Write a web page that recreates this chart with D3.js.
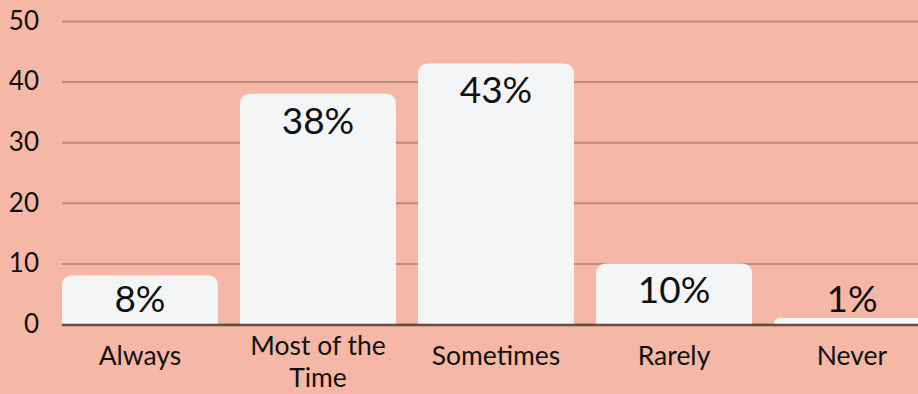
<!DOCTYPE html>
<html>
<head>
<meta charset="utf-8">
<script src="https://cdn.jsdelivr.net/npm/d3@7"></script>
<style>
  html, body { margin: 0; padding: 0; background: #f5b8a6; }
  svg { display: block; }
  text { font-family: Lato, "Noto Sans", sans-serif; fill: #111; }
</style>
</head>
<body>
<svg id="chart" width="918" height="394"></svg>
<script>
const categories = ["Always", "Most of the Time", "Sometimes", "Rarely", "Never"];
const categoryLines = [["Always"], ["Most of the", "Time"], ["Sometimes"], ["Rarely"], ["Never"]];
const values = [8, 38, 43, 10, 1];
const valueLabels = ["8%", "38%", "43%", "10%", "1%"];
const yTicks = [0, 10, 20, 30, 40, 50];

const W = 918, H = 394;
const svg = d3.select("#chart");
svg.append("rect").attr("width", W).attr("height", H).attr("fill", "#f5b8a6");

const x = d3.scaleBand().domain(categories).range([62, 930]).paddingInner(0.124).paddingOuter(0);
const y = d3.scaleLinear().domain([0, 50]).range([324, 21]);

// gridlines + y labels
const yAxis = d3.axisLeft(y).tickValues(yTicks).tickSizeInner(-(W - 62)).tickSizeOuter(0).tickPadding(23);
const gy = svg.append("g").attr("transform", "translate(62,0)").call(yAxis);
gy.select(".domain").remove();
gy.selectAll(".tick line").attr("stroke", "#bd8b7c").attr("stroke-width", 2);
gy.selectAll(".tick text").attr("font-size", 26).attr("fill", "#111")
  .style("font-family", "Lato, 'Noto Sans', sans-serif");

// bars with rounded top corners
function barPath(x0, w, yTop, yBot, r) {
  const h = yBot - yTop;
  const rr = Math.min(r, h, w / 2);
  return `M${x0},${yBot} L${x0},${yTop + rr} Q${x0},${yTop} ${x0 + rr},${yTop} ` +
         `L${x0 + w - rr},${yTop} Q${x0 + w},${yTop} ${x0 + w},${yTop + rr} L${x0 + w},${yBot} Z`;
}
svg.append("g").selectAll("path").data(values).join("path")
  .attr("d", (d, i) => barPath(x(categories[i]), x.bandwidth(), y(d), y(0), 11))
  .attr("fill", "#f4f5f7");

// baseline
svg.append("line").attr("x1", 62).attr("x2", W).attr("y1", y(0) + 1).attr("y2", y(0) + 1)
  .attr("stroke", "#6a4b42").attr("stroke-width", 2.5);

// value labels
svg.append("g").selectAll("text").data(values).join("text")
  .attr("x", (d, i) => x(categories[i]) + x.bandwidth() / 2)
  .attr("y", d => Math.min(y(d) + 40, 312))
  .attr("text-anchor", "middle")
  .attr("font-size", 37)
  .text((d, i) => valueLabels[i]);

// x labels
const xl = svg.append("g").selectAll("text").data(categories).join("text")
  .attr("text-anchor", "middle")
  .attr("font-size", 26.5)
  .attr("x", d => x(d) + x.bandwidth() / 2)
  .attr("y", (d, i) => categoryLines[i].length > 1 ? 355 : 365);
xl.each(function(d, i) {
  const t = d3.select(this);
  categoryLines[i].forEach((ln, j) => {
    t.append("tspan").attr("x", x(d) + x.bandwidth() / 2).attr("dy", j === 0 ? 0 : 32).text(ln);
  });
});
</script>
</body>
</html>
